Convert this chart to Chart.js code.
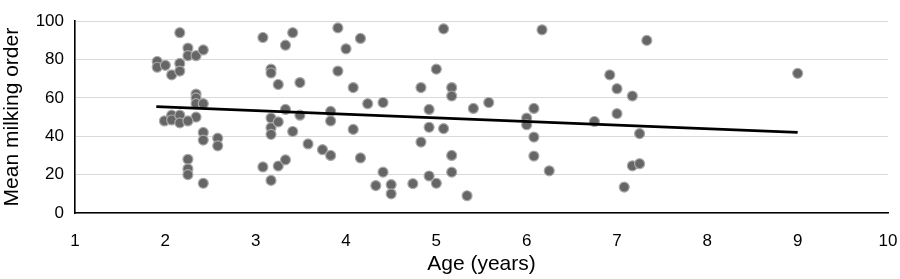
<!DOCTYPE html>
<html>
<head>
<meta charset="utf-8">
<script src="https://cdn.jsdelivr.net/npm/chart.js@4"></script>
<style>
  html, body { margin: 0; padding: 0; background: #fff; }
  #wrap { width: 900px; height: 279px; position: relative; }
</style>
</head>
<body>
<div id="wrap"><canvas id="main-chart"></canvas></div>
<script>
// ages (years) and mean milking order
const ages = [
  1.91, 1.91, 2.0, 2.07, 2.16, 2.16, 2.16, 2.25, 2.25, 2.34, 2.42,
  2.34, 2.34, 2.34, 2.42, 2.34, 1.99, 2.07, 2.07, 2.16, 2.16, 2.25,
  2.42, 2.42, 2.58, 2.58, 2.25, 2.25, 2.25, 2.42,
  3.08, 3.17, 3.17, 3.25, 3.33, 3.41, 3.17, 3.17, 3.17, 3.25, 3.33,
  3.49, 3.41, 3.49, 3.08, 3.17, 3.25, 3.33, 3.58, 3.74, 3.83, 3.83, 3.83,
  3.91, 3.91, 4.0, 4.16, 4.08, 4.08, 4.16, 4.24, 4.41, 4.41, 4.33, 4.5, 4.5,
  4.74, 4.83, 4.83, 4.92, 4.92, 4.92, 5.0, 5.0, 5.08, 5.08, 5.17, 5.17,
  5.17, 5.17, 5.34, 5.41, 5.58,
  6.0, 6.0, 6.08, 6.08, 6.08, 6.17, 6.25,
  6.75, 6.92, 7.0, 7.0, 7.08, 7.17, 7.17, 7.25, 7.25, 7.33, 9.0
];
const milkOrder = [
  79, 76, 77, 72, 94, 78, 74, 86, 82, 82, 85,
  62, 60, 57, 57, 50, 48, 51, 48.5, 51, 47, 48,
  42, 38, 39, 35, 28, 23, 20, 15.5,
  91.5, 75, 73, 67, 87.5, 94, 49.5, 44.5, 41, 47.5, 54,
  51, 42.5, 68, 24, 17, 24.5, 27.7, 36, 33, 30, 53, 48,
  96.5, 74, 85.6, 91, 65.4, 43.6, 28.7, 57, 57.6, 21.3, 14.3, 14.8, 10,
  15.3, 37, 65.4, 54, 44.7, 19.3, 15.5, 75, 96, 44, 65.4, 61,
  30, 21.3, 9, 54.5, 57.6,
  49.5, 46, 54.5, 39.6, 29.7, 95.5, 22,
  47.7, 72, 64.8, 51.8, 13.5, 61, 24.6, 41.4, 25.7, 90, 72.8
];
// linear trend line endpoints
const trendX = [1.9, 9.0];
const trendY = [55.5, 42.0];

const xTicks = [1, 2, 3, 4, 5, 6, 7, 8, 9, 10];
const yTicks = [0, 20, 40, 60, 80, 100];

const tc = '#000';
const font = { family: "'Liberation Sans', Arial, sans-serif", size: 17 };
const titleFont = { family: "'Liberation Sans', Arial, sans-serif", size: 21 };

new Chart(document.getElementById('main-chart'), {
  type: 'scatter',
  data: {
    datasets: [
      {
        label: 'Milking order',
        data: ages.map((a, i) => ({ x: a, y: milkOrder[i] })),
        backgroundColor: '#666666',
        borderColor: '#ababab',
        borderWidth: 1.2,
        pointRadius: 5,
        order: 2,
      },
      {
        label: 'Trend',
        type: 'line',
        data: trendX.map((x, i) => ({ x, y: trendY[i] })),
        borderColor: '#000',
        borderWidth: 2.8,
        pointRadius: 0,
        fill: false,
        order: 1,
      }
    ]
  },
  options: {
    responsive: true, maintainAspectRatio: false,
    animation: false,
    layout: { padding: { left: 0, right: 0, top: 11, bottom: 0 } },
    plugins: { legend: { display: false }, tooltip: { enabled: false } },
    scales: {
      x: {
        type: 'linear', min: 1, max: 10,
        afterBuildTicks: s => { s.ticks = xTicks.map(v => ({ value: v })); },
        afterFit: s => { s.height = 66; s.paddingRight = 12; },
        title: { display: true, text: 'Age (years)', color: tc, font: titleFont, padding: { top: 0, bottom: 2 } },
        grid: { display: false },
        border: { color: '#000', width: 1.6 },
        ticks: { color: tc, font, padding: 10 }
      },
      y: {
        min: 0, max: 100,
        afterBuildTicks: s => { s.ticks = yTicks.map(v => ({ value: v })); },
        afterFit: s => { s.width = 75; },
        title: { display: true, text: 'Mean milking order', color: tc, font: titleFont, padding: { top: 0, bottom: 0 } },
        grid: { color: '#d9d9d9', lineWidth: 1, drawTicks: false },
        border: { color: '#000', width: 1.6 },
        ticks: { color: tc, font, padding: 11 }
      }
    }
  }
});
</script>
</body>
</html>
